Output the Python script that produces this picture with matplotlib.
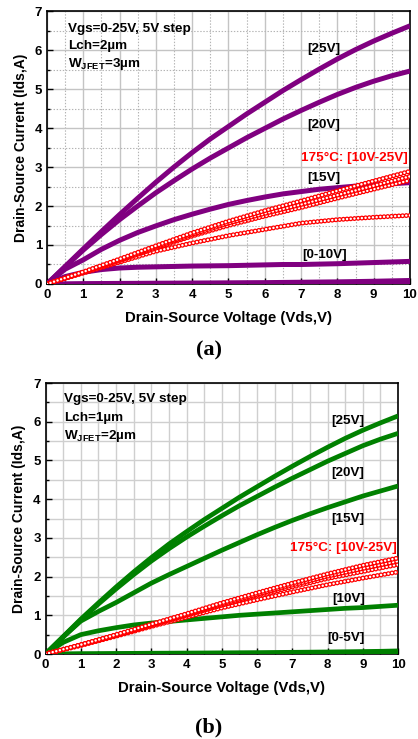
import matplotlib
matplotlib.use("Agg")
import matplotlib.pyplot as plt
from matplotlib.ticker import MultipleLocator

plt.rcParams['font.family'] = ['Liberation Sans', 'DejaVu Sans']
plt.rcParams['font.weight'] = 'bold'
plt.rcParams['mathtext.fontset'] = 'custom'
plt.rcParams['mathtext.rm'] = 'Liberation Sans:bold'
plt.rcParams['mathtext.bf'] = 'Liberation Sans:bold'
plt.rcParams['lines.scale_dashes'] = False

# Drain-source voltage sample points (V)
vds = [0, 0.5, 1, 1.5, 2, 2.5, 3, 3.5, 4, 4.5, 5,
       5.5, 6, 6.5, 7, 7.5, 8, 8.5, 9, 9.5, 10]
vds_hot = [0, 1, 2, 3, 4, 5, 6, 7, 8, 9, 10]

# (a) Lch = 2 um, W_JFET = 3 um, room temperature (A)
a_25v = [0, 0.45, 0.9, 1.345, 1.78, 2.2, 2.61, 3.0, 3.37, 3.72, 4.04,
         4.36, 4.66, 4.96, 5.24, 5.51, 5.77, 6.01, 6.23, 6.43, 6.62]
a_20v = [0, 0.44, 0.87, 1.27, 1.65, 2.0, 2.34, 2.65, 2.95, 3.23, 3.49,
         3.75, 3.99, 4.23, 4.45, 4.66, 4.86, 5.04, 5.2, 5.34, 5.46]
a_15v = [0, 0.38, 0.62, 0.89, 1.12, 1.32, 1.49, 1.65, 1.79, 1.92, 2.04,
         2.14, 2.23, 2.31, 2.37, 2.43, 2.47, 2.51, 2.54, 2.57, 2.6]
a_10v = [0, 0.19, 0.3, 0.37, 0.41, 0.43, 0.44, 0.45, 0.46, 0.465, 0.47,
         0.48, 0.49, 0.5, 0.5, 0.51, 0.52, 0.535, 0.55, 0.565, 0.58]
a_5v = [0, 0.005, 0.01, 0.012, 0.015, 0.017, 0.02, 0.022, 0.025, 0.027, 0.03,
        0.033, 0.035, 0.04, 0.045, 0.05, 0.055, 0.062, 0.07, 0.08, 0.09]
a_0v = [0] * 21

# (a) 175 C
a_hot_25v = [0, 0.31, 0.64, 0.98, 1.31, 1.61, 1.88, 2.13, 2.39, 2.64, 2.89]
a_hot_20v = [0, 0.3, 0.62, 0.95, 1.27, 1.56, 1.81, 2.04, 2.28, 2.52, 2.76]
a_hot_15v = [0, 0.3, 0.6, 0.92, 1.23, 1.5, 1.74, 1.96, 2.2, 2.43, 2.66]
a_hot_10v = [0, 0.28, 0.56, 0.84, 1.05, 1.24, 1.4, 1.56, 1.65, 1.71, 1.76]

# (b) Lch = 1 um, W_JFET = 2 um, room temperature (A)
b_25v = [0, 0.45, 0.9, 1.32, 1.73, 2.12, 2.49, 2.84, 3.16, 3.47, 3.76,
         4.05, 4.32, 4.59, 4.85, 5.1, 5.34, 5.57, 5.78, 5.97, 6.15]
b_20v = [0, 0.44, 0.88, 1.29, 1.68, 2.05, 2.4, 2.72, 3.02, 3.3, 3.57,
         3.83, 4.07, 4.31, 4.54, 4.76, 4.98, 5.18, 5.38, 5.55, 5.7]
b_15v = [0, 0.44, 0.85, 1.1, 1.33, 1.58, 1.83, 2.05, 2.26, 2.47, 2.68,
         2.88, 3.08, 3.27, 3.45, 3.62, 3.78, 3.93, 4.08, 4.21, 4.34]
b_10v = [0, 0.3, 0.5, 0.6, 0.68, 0.75, 0.8, 0.84, 0.88, 0.92, 0.96,
         1.0, 1.03, 1.06, 1.09, 1.12, 1.15, 1.18, 1.2, 1.23, 1.26]
b_5v = [0, 0.005, 0.01, 0.012, 0.015, 0.017, 0.02, 0.022, 0.025, 0.027, 0.03,
        0.033, 0.036, 0.04, 0.044, 0.048, 0.053, 0.058, 0.064, 0.07, 0.08]
b_0v = [0] * 21

# (b) 175 C
b_hot_25v = [0, 0.24, 0.5, 0.77, 1.04, 1.32, 1.58, 1.83, 2.07, 2.29, 2.48]
b_hot_20v = [0, 0.24, 0.49, 0.76, 1.02, 1.29, 1.54, 1.78, 2.01, 2.21, 2.4]
b_hot_15v = [0, 0.23, 0.48, 0.74, 1.0, 1.26, 1.5, 1.73, 1.95, 2.13, 2.31]
b_hot_10v = [0, 0.22, 0.46, 0.71, 0.95, 1.19, 1.4, 1.6, 1.79, 1.96, 2.12]

PURPLE = '#800080'
GREEN = '#008000'
RED = '#ff0000'
NOTE_SIZE = 9.7

fig = plt.figure(figsize=(4.18, 7.39), dpi=100)


def ring_curve(ax, x, y):
    # chain of open circles along the curve
    ring = (0, (0.01, 2.66))
    ax.plot(x, y, color=RED, lw=3.6, ls=ring, dash_capstyle='round', zorder=4)
    ax.plot(x, y, color='white', lw=1.8, ls=ring, dash_capstyle='round', zorder=4)


def style(ax, dotted_minor):
    ax.set_xlim(0, 10)
    ax.set_ylim(0, 7)
    ax.xaxis.set_major_locator(MultipleLocator(1))
    ax.yaxis.set_major_locator(MultipleLocator(1))
    ax.xaxis.set_minor_locator(MultipleLocator(0.5))
    ax.yaxis.set_minor_locator(MultipleLocator(0.5))
    ax.set_axisbelow(True)
    if dotted_minor:
        ax.grid(which='major', color='#c4c4c4', lw=1.0, ls='-')
        ax.grid(which='minor', color='#b4b4b4', lw=0.8, ls=(0, (1, 1.2)))
    else:
        ax.grid(which='both', color='#cfcfcf', lw=1.0, ls='-')
    ax.tick_params(which='both', direction='in', top=False, right=False,
                   labelsize=9.5, pad=3.5, width=1)
    ax.tick_params(which='major', length=4)
    ax.tick_params(which='minor', length=2.5)
    for s in ax.spines.values():
        s.set_linewidth(1.2)
    for lab in ax.get_xticklabels() + ax.get_yticklabels():
        lab.set_fontweight('bold')
    ax.set_xlabel('Drain-Source Voltage (Vds,V)', fontsize=10.8,
                  fontweight='bold', labelpad=7)
    ax.set_ylabel('Drain-Source Current (Ids,A)', fontsize=10,
                  fontweight='bold', labelpad=5)


# ---- (a) ----
ax1 = fig.add_axes([0.1124, 0.6157, 0.8684, 0.3694])
style(ax1, True)
for y in (a_0v, a_5v, a_10v, a_15v, a_20v, a_25v):
    ax1.plot(vds, y, color=PURPLE, lw=3.6, solid_capstyle='butt', zorder=3)
for y in (a_hot_10v, a_hot_15v, a_hot_20v, a_hot_25v):
    ring_curve(ax1, vds_hot, y)

ax1.text(0.058, 0.935, 'Vgs=0-25V, 5V step', transform=ax1.transAxes,
         fontsize=NOTE_SIZE, fontweight='bold', va='center')
ax1.text(0.058, 0.87, 'Lch=2µm', transform=ax1.transAxes,
         fontsize=NOTE_SIZE, fontweight='bold', va='center')
ax1.text(0.058, 0.805, 'W$_{\\mathrm{JFET}}$=3µm', transform=ax1.transAxes,
         fontsize=NOTE_SIZE, fontweight='bold', va='center')
ax1.text(7.16, 6.03, '[25V]', fontsize=NOTE_SIZE, fontweight='bold', va='center')
ax1.text(7.16, 4.08, '[20V]', fontsize=NOTE_SIZE, fontweight='bold', va='center')
ax1.text(7.0, 3.24, '175°C: [10V-25V]', fontsize=NOTE_SIZE, fontweight='bold',
         va='center', color=RED)
ax1.text(7.16, 2.73, '[15V]', fontsize=NOTE_SIZE, fontweight='bold', va='center')
ax1.text(7.02, 0.75, '[0-10V]', fontsize=NOTE_SIZE, fontweight='bold', va='center')
fig.text(0.5, 1 - 350 / 739, '(a)', family='Liberation Serif',
         fontsize=16, fontweight='bold', ha='center', va='center')

# ---- (b) ----
ax2 = fig.add_axes([0.1089, 0.1150, 0.8433, 0.3667])
style(ax2, False)
for y in (b_0v, b_5v, b_10v, b_15v, b_20v, b_25v):
    ax2.plot(vds, y, color=GREEN, lw=3.4, solid_capstyle='butt', zorder=3)
for y in (b_hot_10v, b_hot_15v, b_hot_20v, b_hot_25v):
    ring_curve(ax2, vds_hot, y)

ax2.text(0.052, 0.94, 'Vgs=0-25V, 5V step', transform=ax2.transAxes,
         fontsize=NOTE_SIZE, fontweight='bold', va='center')
ax2.text(0.052, 0.87, 'Lch=1µm', transform=ax2.transAxes,
         fontsize=NOTE_SIZE, fontweight='bold', va='center')
ax2.text(0.052, 0.805, 'W$_{\\mathrm{JFET}}$=2µm', transform=ax2.transAxes,
         fontsize=NOTE_SIZE, fontweight='bold', va='center')
ax2.text(8.1, 6.02, '[25V]', fontsize=NOTE_SIZE, fontweight='bold', va='center')
ax2.text(8.1, 4.68, '[20V]', fontsize=NOTE_SIZE, fontweight='bold', va='center')
ax2.text(8.1, 3.49, '[15V]', fontsize=NOTE_SIZE, fontweight='bold', va='center')
ax2.text(6.94, 2.74, '175°C: [10V-25V]', fontsize=NOTE_SIZE, fontweight='bold',
         va='center', color=RED)
ax2.text(8.13, 1.42, '[10V]', fontsize=NOTE_SIZE, fontweight='bold', va='center')
ax2.text(7.98, 0.41, '[0-5V]', fontsize=NOTE_SIZE, fontweight='bold', va='center')
fig.text(0.5, 1 - 727 / 739, '(b)', family='Liberation Serif',
         fontsize=16, fontweight='bold', ha='center', va='center')

fig.savefig('out.png', dpi=100)
